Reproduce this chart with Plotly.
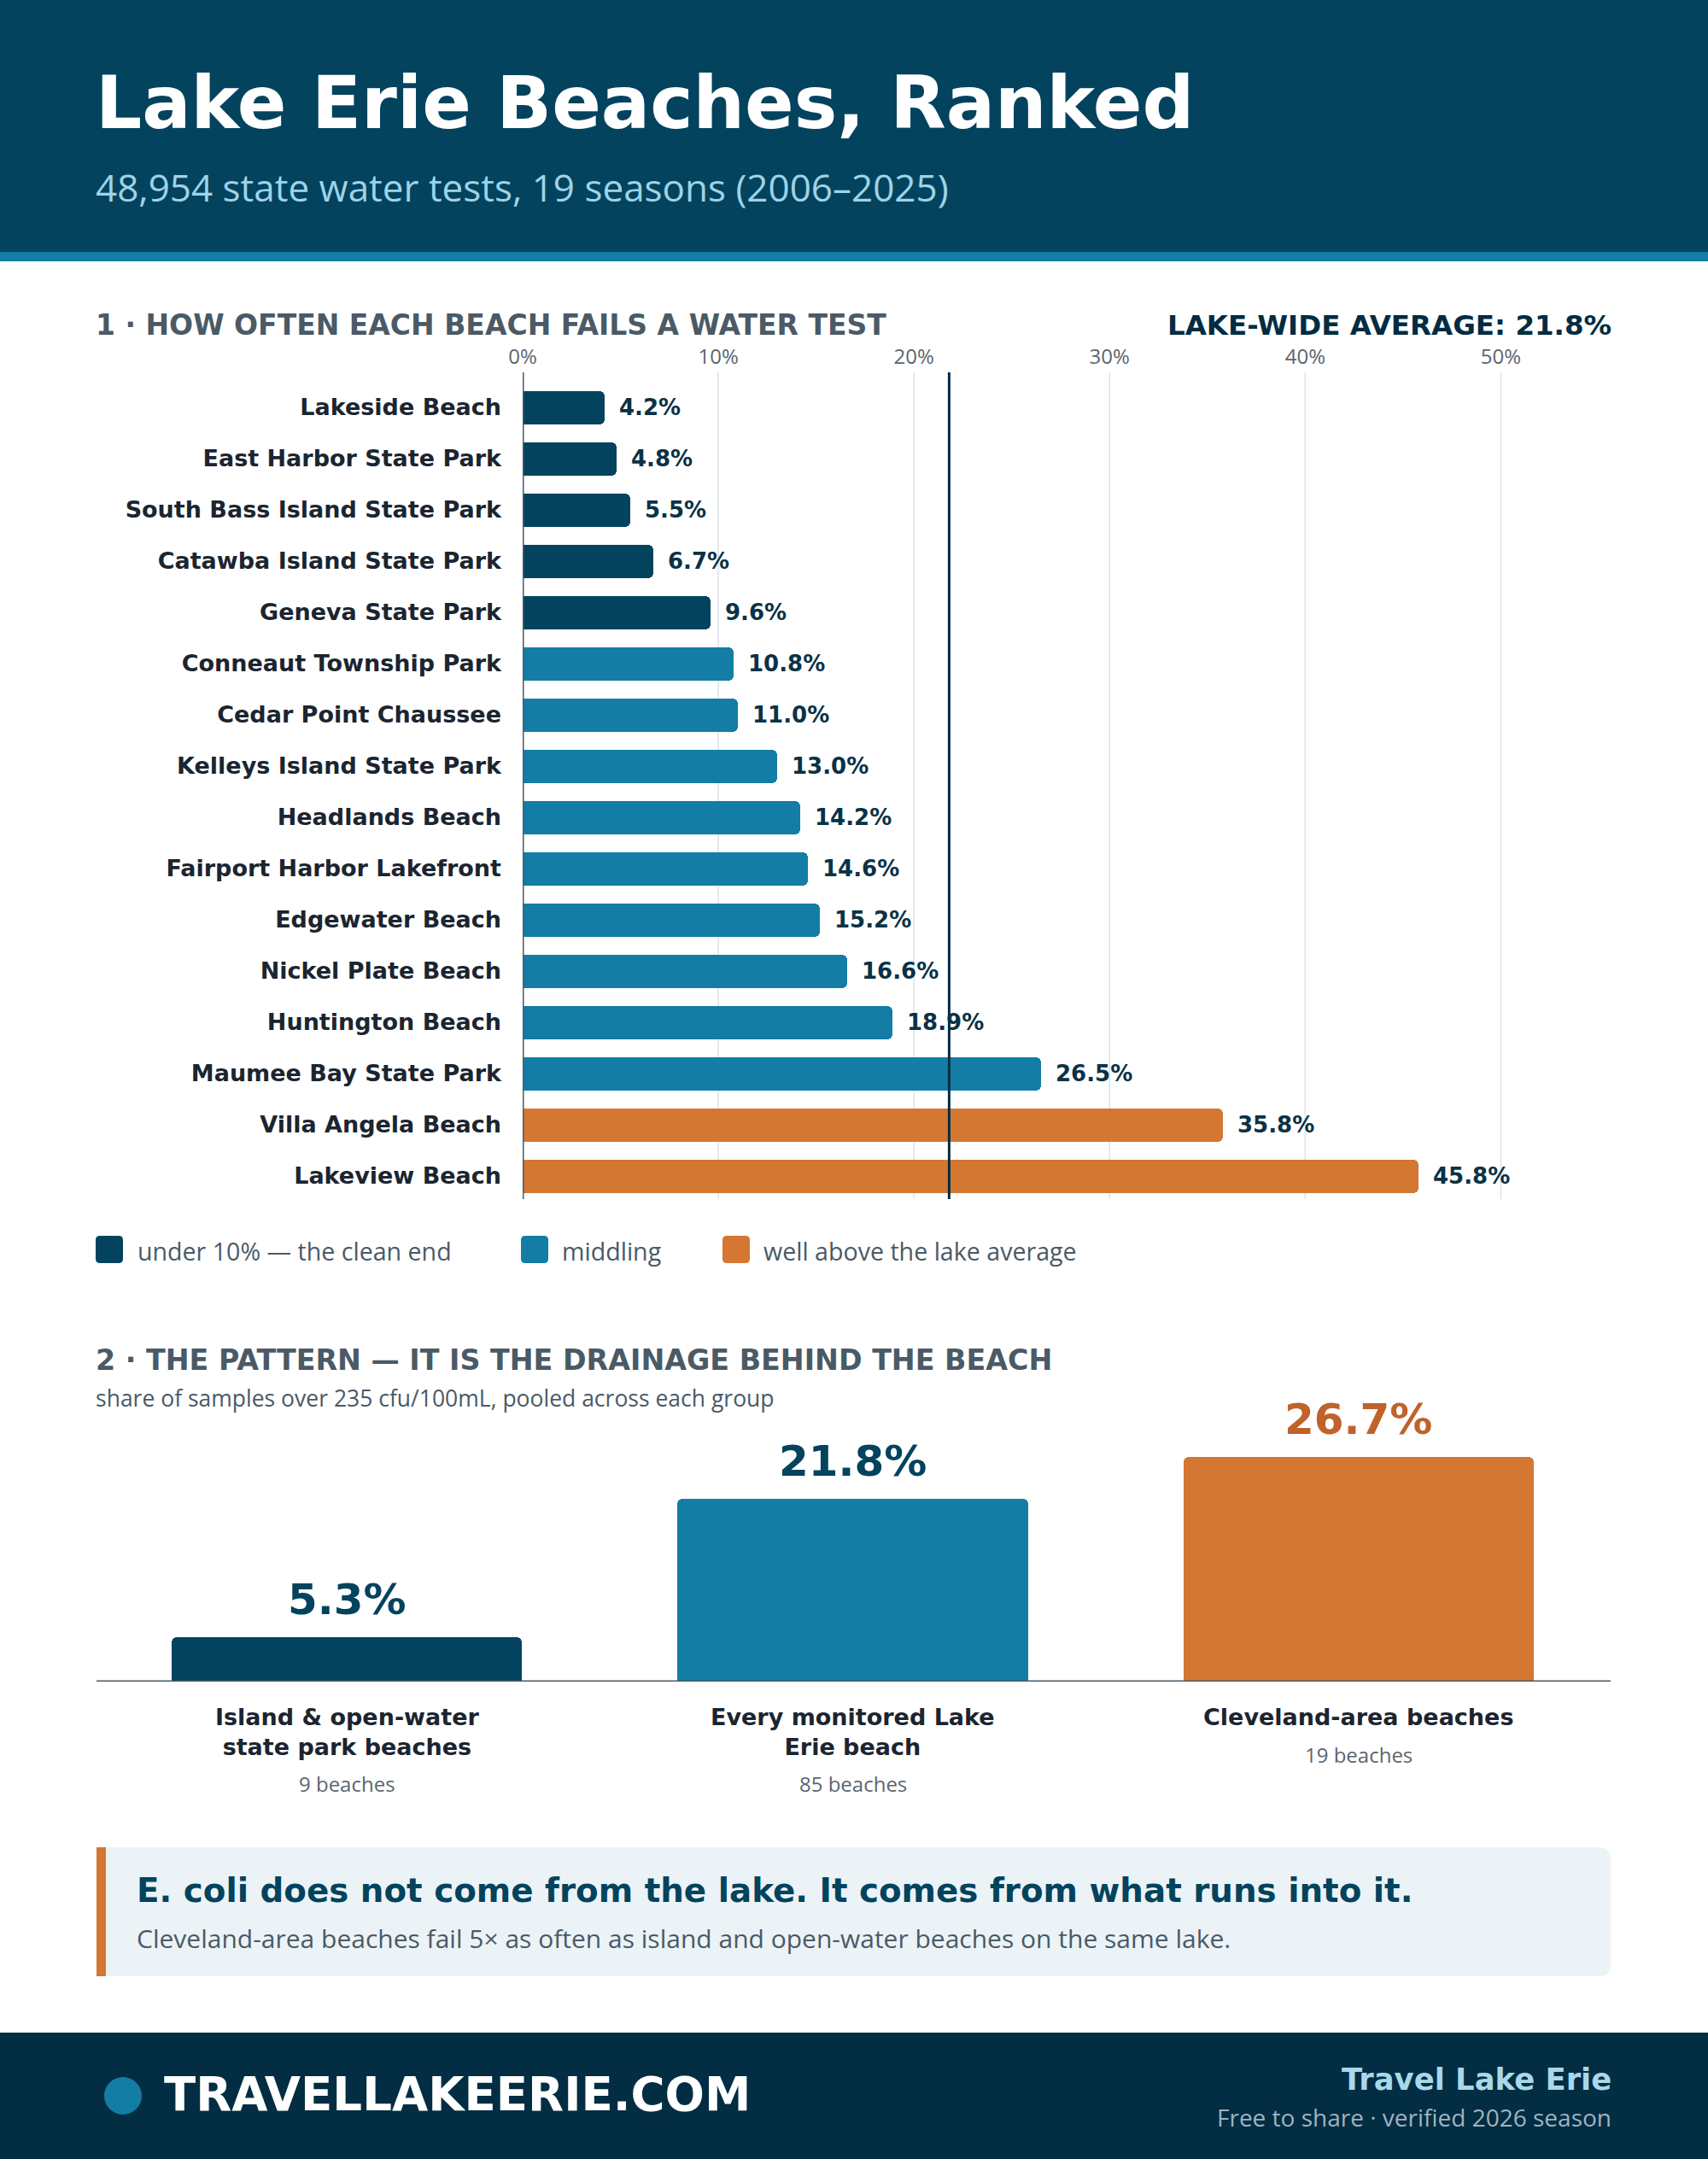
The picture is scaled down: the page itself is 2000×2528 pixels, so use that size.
import plotly.graph_objects as go

# ---------------- data ----------------
beaches = ["Lakeside Beach", "East Harbor State Park", "South Bass Island State Park",
           "Catawba Island State Park", "Geneva State Park", "Conneaut Township Park",
           "Cedar Point Chaussee", "Kelleys Island State Park", "Headlands Beach",
           "Fairport Harbor Lakefront", "Edgewater Beach", "Nickel Plate Beach",
           "Huntington Beach", "Maumee Bay State Park", "Villa Angela Beach", "Lakeview Beach"]
fail_rate = [4.2, 4.8, 5.5, 6.7, 9.6, 10.8, 11.0, 13.0, 14.2, 14.6, 15.2, 16.6, 18.9, 26.5, 35.8, 45.8]
beach_tier = ["clean", "clean", "clean", "clean", "clean",
              "middling", "middling", "middling", "middling", "middling", "middling", "middling",
              "middling", "middling", "high", "high"]
lake_average = 21.8
x_ticks = [0, 10, 20, 30, 40, 50]
x_tick_labels = ["0%", "10%", "20%", "30%", "40%", "50%"]

legend_tiers = ["clean", "middling", "high"]
legend_labels = ["under 10% — the clean end", "middling", "well above the lake average"]

groups = ["Island & open-water<br>state park beaches", "Every monitored Lake<br>Erie beach",
          "Cleveland-area beaches"]
group_rate = [5.3, 21.8, 26.7]
group_tier = ["clean", "middling", "high"]
group_counts = ["9 beaches", "85 beaches", "19 beaches"]

title = "Lake Erie Beaches, Ranked"
subtitle = "48,954 state water tests, 19 seasons (2006–2025)"
sec1 = "1 · HOW OFTEN EACH BEACH FAILS A WATER TEST"
sec1_right = "LAKE-WIDE AVERAGE: 21.8%"
sec2 = "2 · THE PATTERN — IT IS THE DRAINAGE BEHIND THE BEACH"
sec2_sub = "share of samples over 235 cfu/100mL, pooled across each group"
callout_head = "E. coli does not come from the lake. It comes from what runs into it."
callout_body = "Cleveland-area beaches fail 5× as often as island and open-water beaches on the same lake."
footer_site = "TRAVELLAKEERIE.COM"
footer_brand = "Travel Lake Erie"
footer_note = "Free to share · verified 2026 season"

# ---------------- style ----------------
W, H = 2000, 2528
NAVY = "#03435E"
MID = "#137DA5"
ORANGE = "#D37732"
ORANGE_TEXT = "#C0622A"
FOOTER = "#022D42"
DARK = "#1B2530"
VALUE = "#0A3246"
GRAY = "#4A5A66"
LIGHT_BLUE = "#A8D8EA"
tier_color = {"clean": NAVY, "middling": MID, "high": ORANGE}
tier_label_color = {"clean": NAVY, "middling": NAVY, "high": ORANGE_TEXT}
BOLD = "DejaVu Sans"
BODY = "Open Sans"

# chart 1 frame (pixels)
C1_LEFT, C1_RIGHT = 612, 1888
C1_BAND_TOP, C1_BAND_BOTTOM = 447, 1407
C1_RULE_TOP, C1_RULE_BOTTOM = 436, 1404


def X(px):
    return px / W


def Y(py):
    return 1 - py / H


def rrect(x0, y0, x1, y1, r, left=True, right=True):
    """rounded rectangle path in paper coords from pixel coords"""
    p = []
    if left:
        p.append(f"M{X(x0)},{Y(y0 + r)} Q{X(x0)},{Y(y0)} {X(x0 + r)},{Y(y0)}")
    else:
        p.append(f"M{X(x0)},{Y(y0)}")
    if right:
        p.append(f"L{X(x1 - r)},{Y(y0)} Q{X(x1)},{Y(y0)} {X(x1)},{Y(y0 + r)}")
        p.append(f"L{X(x1)},{Y(y1 - r)} Q{X(x1)},{Y(y1)} {X(x1 - r)},{Y(y1)}")
    else:
        p.append(f"L{X(x1)},{Y(y0)} L{X(x1)},{Y(y1)}")
    if left:
        p.append(f"L{X(x0 + r)},{Y(y1)} Q{X(x0)},{Y(y1)} {X(x0)},{Y(y1 - r)} Z")
    else:
        p.append(f"L{X(x0)},{Y(y1)} Z")
    return " ".join(p)


fig = go.Figure()

# chart 1: ranked beaches
fig.add_trace(go.Bar(
    x=fail_rate, y=beaches, orientation="h",
    marker=dict(color=[tier_color[t] for t in beach_tier], cornerradius=6, line=dict(width=0)),
    width=0.65, xaxis="x", yaxis="y", hoverinfo="skip", showlegend=False,
))

# chart 2: groups
fig.add_trace(go.Bar(
    x=groups, y=group_rate,
    marker=dict(color=[tier_color[t] for t in group_tier], cornerradius=6, line=dict(width=0)),
    width=0.693, xaxis="x2", yaxis="y2", hoverinfo="skip", showlegend=False,
))

shapes = []
ann = []

# header
shapes.append(dict(type="rect", xref="paper", yref="paper", x0=0, x1=1, y0=Y(295), y1=1,
                   fillcolor=NAVY, line=dict(width=0), layer="below"))
shapes.append(dict(type="rect", xref="paper", yref="paper", x0=0, x1=1, y0=Y(306), y1=Y(295),
                   fillcolor=MID, line=dict(width=0), layer="below"))
# footer
shapes.append(dict(type="rect", xref="paper", yref="paper", x0=0, x1=1, y0=0, y1=Y(2380),
                   fillcolor=FOOTER, line=dict(width=0), layer="below"))
shapes.append(dict(type="circle", xref="paper", yref="paper", x0=X(122), x1=X(166),
                   y0=Y(2476), y1=Y(2432), fillcolor=MID, line=dict(width=0)))

# chart 1 gridlines and zero rule (drawn on the x scale)
for v in x_ticks:
    if v == 0:
        shapes.append(dict(type="line", xref="x", yref="paper", x0=v, x1=v,
                           y0=Y(C1_RULE_BOTTOM), y1=Y(C1_RULE_TOP),
                           line=dict(color=GRAY, width=3), layer="above"))
    else:
        shapes.append(dict(type="line", xref="x", yref="paper", x0=v, x1=v,
                           y0=Y(C1_RULE_BOTTOM), y1=Y(C1_RULE_TOP),
                           line=dict(color="#DCE3E8", width=1.5), layer="below"))

# average line
shapes.append(dict(type="line", xref="x", yref="paper", x0=lake_average, x1=lake_average,
                   y0=Y(C1_RULE_BOTTOM), y1=Y(C1_RULE_TOP),
                   line=dict(color="#022C42", width=3), layer="above"))

# chart 2 baseline
shapes.append(dict(type="line", xref="paper", yref="y2", x0=X(113), x1=X(1886), y0=0, y1=0,
                   line=dict(color=GRAY, width=3), layer="above"))

# legend
legend_sq_x = [112, 610, 846]
legend_tx_x = [159, 656, 892]
for t, lab, sx, tx in zip(legend_tiers, legend_labels, legend_sq_x, legend_tx_x):
    shapes.append(dict(type="path", xref="paper", yref="paper",
                       path=rrect(sx, 1447, sx + 32, 1479, 5),
                       fillcolor=tier_color[t], line=dict(width=0)))
    ann.append(dict(text=lab, x=X(tx), y=Y(1464), xref="paper", yref="paper",
                    xanchor="left", yanchor="middle", showarrow=False,
                    font=dict(family=BODY, size=28.6, color=GRAY)))

# callout box
shapes.append(dict(type="path", xref="paper", yref="paper",
                   path=rrect(113, 2163, 1886, 2314, 14, left=False),
                   fillcolor="#EBF3F7", line=dict(width=0), layer="below"))
shapes.append(dict(type="rect", xref="paper", yref="paper", x0=X(113), x1=X(124),
                   y0=Y(2314), y1=Y(2163), fillcolor=ORANGE, line=dict(width=0)))

# bar value labels chart 1
for b, v in zip(beaches, fail_rate):
    ann.append(dict(text=f"{v:.1f}%", x=v, y=b, xref="x", yref="y", xanchor="left",
                    yanchor="middle", xshift=15, showarrow=False,
                    font=dict(family=BOLD, size=26, color=VALUE, weight=700)))

# chart 2 labels
for g, v, t, c in zip(groups, group_rate, group_tier, group_counts):
    ann.append(dict(text=f"{v:.1f}%", x=g, y=v, xref="x2", yref="y2", xanchor="center",
                    yanchor="bottom", yshift=13, showarrow=False,
                    font=dict(family=BOLD, size=50, color=tier_label_color[t], weight=700)))
    nlines = g.count("<br>") + 1
    ann.append(dict(text=g, x=g, y=Y(1993), xref="x2", yref="paper", xanchor="center",
                    yanchor="top", showarrow=False,
                    font=dict(family=BOLD, size=27, color=DARK, weight=700)))
    ann.append(dict(text=c, x=g, y=Y(1993 + nlines * 34 + 9), xref="x2", yref="paper",
                    xanchor="center", yanchor="top", showarrow=False,
                    font=dict(family=BODY, size=24, color="#5A6670")))

# texts
def txt(s, px, py, size, color, family=BOLD, anchor="left", weight=700):
    ann.append(dict(text=s, x=X(px), y=Y(py), xref="paper", yref="paper", xanchor=anchor,
                    yanchor="middle", showarrow=False,
                    font=dict(family=family, size=size, color=color, weight=weight)))

txt(title, 110, 121, 85, "white")
txt(subtitle, 110, 219, 44, "#9FD3E6", family=BODY, weight=400)
txt(sec1, 110, 381, 33, GRAY)
txt(sec1_right, 1889, 381, 32.5, "#022C42", anchor="right")
txt(sec2, 110, 1592, 33.3, GRAY)
txt(sec2_sub, 110, 1637, 26.5, GRAY, family=BODY, weight=400)
txt(callout_head, 158, 2213, 38.8, NAVY)
txt(callout_body, 158, 2269, 30, GRAY, family=BODY, weight=400)
txt(footer_site, 190, 2452, 54.6, "white")
txt(footer_brand, 1889, 2434, 35.4, LIGHT_BLUE, anchor="right")
txt(footer_note, 1889, 2479, 28, "#9FB3C1", family=BODY, anchor="right", weight=400)

fig.update_layout(
    width=W, height=H, margin=dict(l=0, r=0, t=0, b=0, pad=0, autoexpand=False),
    paper_bgcolor="white", plot_bgcolor="rgba(0,0,0,0)",
    shapes=shapes, annotations=ann, showlegend=False, bargap=0,
    xaxis=dict(domain=[X(C1_LEFT), X(C1_RIGHT)], range=[0, 55.7], side="top",
               tickvals=x_ticks, ticktext=x_tick_labels,
               tickfont=dict(family=BODY, size=24, color="#5A6670"),
               showgrid=False, zeroline=False,
               showline=False, ticks="", ticklabelstandoff=15, fixedrange=True,
               automargin=False),
    yaxis=dict(domain=[Y(C1_BAND_BOTTOM), Y(C1_BAND_TOP)], type="category",
               autorange="reversed",
               tickfont=dict(family=BOLD, size=27, color=DARK, weight=700),
               showgrid=False, zeroline=False, showline=False, ticks="",
               ticklabelstandoff=24, fixedrange=True, automargin=False),
    xaxis2=dict(domain=[X(110), X(1887)], type="category", showticklabels=False,
                showgrid=False, zeroline=False, showline=False, ticks="", anchor="y2",
                fixedrange=True, automargin=False),
    yaxis2=dict(domain=[Y(1969), Y(1674)], range=[0, 30], showticklabels=False,
                showgrid=False, zeroline=False, showline=False, ticks="", anchor="x2",
                fixedrange=True, automargin=False),
)

fig.write_html(
    "out.html",
    config={"displayModeBar": False},
    post_script="document.body.style.margin='0';document.body.style.padding='0';"
                "document.documentElement.style.overflow='hidden';",
)
